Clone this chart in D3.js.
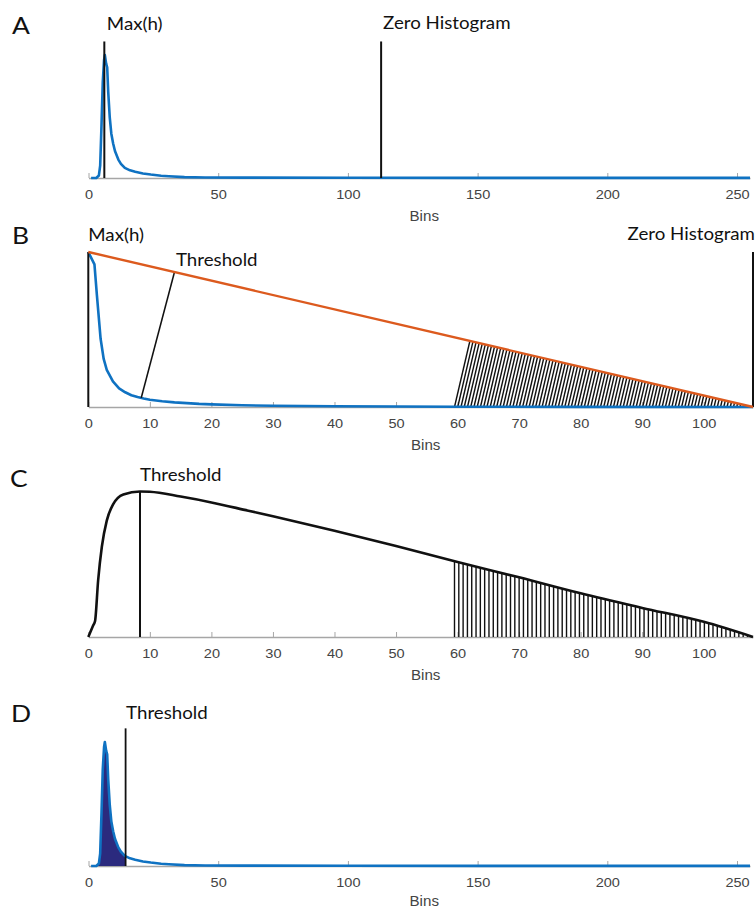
<!DOCTYPE html>
<html>
<head>
<meta charset="utf-8">
<script src="https://cdn.jsdelivr.net/npm/d3@7"></script>
<style>
body { margin: 0; background: #fff; }
svg { display: block; }
.note { font-family: Lato, "Open Sans", sans-serif; font-size: 17px; fill: #111; }
.letter { font-family: Lato, "Open Sans", sans-serif; font-size: 24px; fill: #111; }
.axis text { font-family: "Liberation Sans", Arial, sans-serif; font-size: 13px; fill: #444; }
.axis path, .axis line { stroke: #a6a6a6; }
.xlabel { font-family: "Liberation Sans", Arial, sans-serif; font-size: 14px; fill: #444; }
</style>
</head>
<body>
<script>
var W = 755, H = 909;
var stretch = 1.1;

// panel A / D: grey-level histogram, normalised to its peak
var histBins = [1, 3, 4, 4.5, 5, 5.5, 6, 6.3, 6.8, 7.2, 7.6, 8.2, 8.8, 9.5, 10.2, 11.5, 12.5, 14, 16, 18, 21, 24, 28, 31, 37, 45, 60, 100, 150, 255];
var histVals = [0, 0, 0.02, 0.1, 0.42, 0.78, 0.96, 1.0, 0.93, 0.9, 0.7, 0.49, 0.36, 0.28, 0.22, 0.15, 0.115, 0.082, 0.062, 0.05, 0.037, 0.028, 0.018, 0.014, 0.007, 0.004, 0.003, 0.002, 0.001, 0.001];

// panel B: histogram from max bin to the zero bin
var tailBins = [0, 1, 1.4, 2, 2.5, 3, 4, 5, 6, 7, 8, 9, 10, 12, 14, 16, 18, 20, 25, 30, 40, 50, 60, 80, 108];
var tailVals = [1, 0.92, 0.72, 0.44, 0.31, 0.24, 0.165, 0.12, 0.095, 0.076, 0.064, 0.055, 0.047, 0.037, 0.03, 0.025, 0.02, 0.017, 0.011, 0.008, 0.005, 0.003, 0.002, 0.001, 0];

// panel C: distance of each bin to the line
var distBins = [0, 0.8, 1.1, 1.6, 2.2, 3, 4, 5.7, 8.4, 10, 15, 20, 26, 30, 40, 50, 60, 70, 80, 90, 100, 108];
var distVals = [0, 0.08, 0.11, 0.39, 0.62, 0.8, 0.91, 0.98, 1.0, 0.998, 0.965, 0.925, 0.868, 0.83, 0.73, 0.625, 0.515, 0.41, 0.3, 0.2, 0.104, 0];

var wideTicks = [0, 50, 100, 150, 200, 250];
var narrowTicks = [0, 10, 20, 30, 40, 50, 60, 70, 80, 90, 100];

var maxBin = 6.1, zeroBin = 112.8;
var threshB = { top: 14, bottom: 8.6 };
var threshC = 8.4, threshD = 14.3;
var hatchB = { from: 62, to: 108, step: 0.5 };
var hatchC = { from: 59.5, to: 108, step: 0.7 };

var blue = '#0f72c2', orange = '#dc5a1e', navy = '#2b2a7e';

var svg = d3.select('body').append('svg')
  .attr('width', W)
  .attr('height', H);

function zip(xs, ys) {
  return xs.map(function(b, i) { return { b: b, v: ys[i] }; });
}

function valueAt(xs, ys, b) {
  var i = d3.bisectLeft(xs, b);
  if (i <= 0) return ys[0];
  if (i >= xs.length) return ys[ys.length - 1];
  var t = (b - xs[i - 1]) / (xs[i] - xs[i - 1]);
  return ys[i - 1] + t * (ys[i] - ys[i - 1]);
}

function note(g, x, y, txt, cls, anchor) {
  g.append('text')
    .attr('class', cls || 'note')
    .attr('text-anchor', anchor || 'start')
    .attr('transform', 'translate(' + x + ',' + y + ') scale(' + stretch + ',1)')
    .text(txt);
}

function makePanel(xRange, xMax, yBase, yTop, ticks) {
  var x = d3.scaleLinear().domain([0, xMax]).range(xRange);
  var y = d3.scaleLinear().domain([0, 1]).range([yBase, yTop]);
  var g = svg.append('g');

  var ax = g.append('g')
    .attr('class', 'axis')
    .attr('transform', 'translate(0,' + yBase + ')')
    .call(d3.axisBottom(x).tickValues(ticks).tickSizeInner(-5).tickSizeOuter(0).tickPadding(11.5));
  ax.select('.domain').attr('stroke-width', 1.3);
  ax.selectAll('text').attr('transform', 'scale(1.12,1)');

  g.append('text')
    .attr('class', 'xlabel')
    .attr('text-anchor', 'middle')
    .attr('transform', 'translate(' + ((xRange[0] + xRange[1]) / 2 + 5) + ',' + Math.min(yBase + 42.5, H - 3) + ') scale(1.08,1)')
    .text('Bins');

  return { x: x, y: y, g: g };
}

function vline(p, b, v0, v1, w) {
  p.g.append('line')
    .attr('x1', p.x(b)).attr('x2', p.x(b))
    .attr('y1', p.y(v0)).attr('y2', p.y(v1))
    .attr('stroke', '#111')
    .attr('stroke-width', w || 2);
}

// ---- A
var A = makePanel([88.5, 750], 255, 178, 55, wideTicks);
var lineA = d3.line().x(function(d) { return A.x(d.b); }).y(function(d) { return A.y(d.v); });
A.g.append('path')
  .datum(zip(histBins, histVals))
  .attr('d', lineA)
  .attr('fill', 'none')
  .attr('stroke', blue)
  .attr('stroke-width', 2.6)
  .attr('stroke-linejoin', 'round');
vline(A, maxBin, 0, 1.11);
vline(A, zeroBin, 0, 1.11);
note(svg, 12, 34, 'A', 'letter');
note(svg, A.x(maxBin) + 2.5, 30, 'Max(h)');
note(svg, A.x(zeroBin) + 2, 29, 'Zero Histogram');

// ---- B
var B = makePanel([88.3, 753], 108, 407, 252, narrowTicks);
var lineB = d3.line().x(function(d) { return B.x(d.b); }).y(function(d) { return B.y(d.v); });

// hatch lines run perpendicular to the orange chord (in screen space)
var slopeB = (B.y(0) - B.y(1)) / (B.x(108) - B.x(0));
B.g.append('g').selectAll('line')
  .data(d3.range(hatchB.from, hatchB.to, hatchB.step))
  .join('line')
  .attr('x1', function(b) { return B.x(b); })
  .attr('y1', function(b) { return B.y(1 - b / 108); })
  .attr('x2', function(b) { return B.x(b) - slopeB * (B.y(0) - B.y(1 - b / 108)); })
  .attr('y2', B.y(0))
  .attr('stroke', '#111')
  .attr('stroke-width', 1.4);

B.g.append('path')
  .datum(zip(tailBins, tailVals))
  .attr('d', lineB)
  .attr('fill', 'none')
  .attr('stroke', blue)
  .attr('stroke-width', 2.6)
  .attr('stroke-linejoin', 'round');

B.g.append('line')
  .attr('x1', B.x(threshB.top)).attr('y1', B.y(1 - threshB.top / 108))
  .attr('x2', B.x(threshB.bottom)).attr('y2', B.y(valueAt(tailBins, tailVals, threshB.bottom)))
  .attr('stroke', '#111')
  .attr('stroke-width', 1.6);

vline(B, 0, 0, 1);
vline(B, 108, 0, 1);
B.g.append('line')
  .attr('x1', B.x(0)).attr('y1', B.y(1))
  .attr('x2', B.x(108)).attr('y2', B.y(0))
  .attr('stroke', orange)
  .attr('stroke-width', 2.4);

note(svg, 12, 244, 'B', 'letter');
note(svg, B.x(0), 241, 'Max(h)');
note(svg, B.x(threshB.top) + 1.5, 266, 'Threshold');
note(svg, W, 240, 'Zero Histogram', 'note', 'end');

// ---- C
var C = makePanel([88.3, 753], 108, 637, 491.5, narrowTicks);
var distData = zip(distBins, distVals);
var areaC = d3.area().curve(d3.curveMonotoneX).x(function(d) { return C.x(d.b); }).y0(C.y(0)).y1(function(d) { return C.y(d.v); });
var lineC = d3.line().curve(d3.curveMonotoneX).x(function(d) { return C.x(d.b); }).y(function(d) { return C.y(d.v); });

svg.append('clipPath').attr('id', 'underC')
  .append('path').datum(distData).attr('d', areaC);

C.g.append('g')
  .attr('clip-path', 'url(#underC)')
  .selectAll('line')
  .data(d3.range(hatchC.from, hatchC.to, hatchC.step))
  .join('line')
  .attr('x1', function(b) { return C.x(b); })
  .attr('x2', function(b) { return C.x(b); })
  .attr('y1', C.y(0))
  .attr('y2', C.y(1))
  .attr('stroke', '#111')
  .attr('stroke-width', 1.4);

C.g.append('path')
  .datum(distData)
  .attr('d', lineC)
  .attr('fill', 'none')
  .attr('stroke', '#111')
  .attr('stroke-width', 2.6)
  .attr('stroke-linejoin', 'round');
vline(C, threshC, 0, 1);
note(svg, 10, 487, 'C', 'letter');
note(svg, C.x(threshC), 481, 'Threshold');

// ---- D
var D = makePanel([88.5, 750], 255, 866, 742, wideTicks);
var histData = zip(histBins, histVals);
var lineD = d3.line().x(function(d) { return D.x(d.b); }).y(function(d) { return D.y(d.v); });
var areaD = d3.area().x(function(d) { return D.x(d.b); }).y0(D.y(0)).y1(function(d) { return D.y(d.v); });

svg.append('clipPath').attr('id', 'belowThresh')
  .append('rect')
  .attr('x', D.x(0)).attr('y', D.y(1.2))
  .attr('width', D.x(threshD) - D.x(0))
  .attr('height', D.y(0) - D.y(1.2));

D.g.append('path')
  .datum(histData)
  .attr('d', areaD)
  .attr('fill', navy)
  .attr('clip-path', 'url(#belowThresh)');
D.g.append('path')
  .datum(histData)
  .attr('d', lineD)
  .attr('fill', 'none')
  .attr('stroke', blue)
  .attr('stroke-width', 2.6)
  .attr('stroke-linejoin', 'round');
vline(D, threshD, 0, 1.11, 1.8);
note(svg, 11, 722, 'D', 'letter');
note(svg, D.x(threshD) + 0.5, 719, 'Threshold');
</script>
</body>
</html>
